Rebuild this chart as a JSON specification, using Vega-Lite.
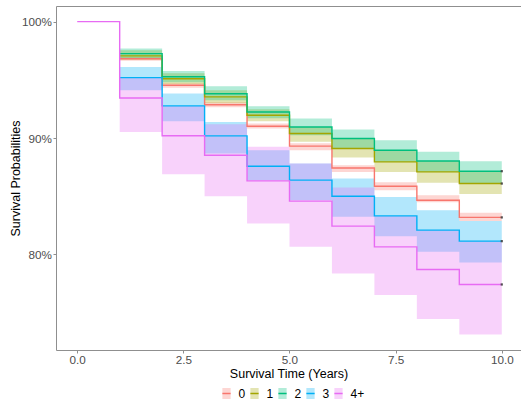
{
  "$schema": "https://vega.github.io/schema/vega-lite/v6.json",
  "width": 465,
  "height": 344,
  "autosize": "none",
  "padding": {"left": 56, "top": 6, "right": 0, "bottom": 49},
  "background": "white",
  "config": {
    "view": {"stroke": null},
    "font": "Liberation Sans",
    "axis": {
      "grid": false,
      "domainColor": "#8f8f8f",
      "tickColor": "#8f8f8f",
      "tickSize": 3,
      "labelColor": "#4d4d4d",
      "labelFontSize": 11.7,
      "labelPadding": 1.5,
      "titleColor": "#000000",
      "titleFontSize": 12.5,
      "titleFontWeight": "normal"
    }
  },
  "data": {
    "values": [
      {"g": "0", "t": 0, "s": 1, "lo": 1, "hi": 1},
      {"g": "0", "t": 1, "s": 0.9681, "lo": 0.9664, "hi": 0.9694},
      {"g": "0", "t": 2, "s": 0.9453, "lo": 0.9432, "hi": 0.947},
      {"g": "0", "t": 3, "s": 0.9286, "lo": 0.9264, "hi": 0.9307},
      {"g": "0", "t": 4, "s": 0.9101, "lo": 0.9082, "hi": 0.9124},
      {"g": "0", "t": 5, "s": 0.893, "lo": 0.8895, "hi": 0.8955},
      {"g": "0", "t": 6, "s": 0.8743, "lo": 0.8709, "hi": 0.8766},
      {"g": "0", "t": 7, "s": 0.8586, "lo": 0.8552, "hi": 0.862},
      {"g": "0", "t": 8, "s": 0.8466, "lo": 0.8449, "hi": 0.8509},
      {"g": "0", "t": 9, "s": 0.8318, "lo": 0.8288, "hi": 0.8357},
      {"g": "0", "t": 10, "s": 0.8318, "lo": 0.8288, "hi": 0.8357},
      {"g": "1", "t": 0, "s": 1, "lo": 1, "hi": 1},
      {"g": "1", "t": 1, "s": 0.9706, "lo": 0.9672, "hi": 0.9754},
      {"g": "1", "t": 2, "s": 0.9509, "lo": 0.9462, "hi": 0.9556},
      {"g": "1", "t": 3, "s": 0.9353, "lo": 0.9299, "hi": 0.941},
      {"g": "1", "t": 4, "s": 0.9196, "lo": 0.9144, "hi": 0.9247},
      {"g": "1", "t": 5, "s": 0.9039, "lo": 0.8967, "hi": 0.9095},
      {"g": "1", "t": 6, "s": 0.891, "lo": 0.8833, "hi": 0.8996},
      {"g": "1", "t": 7, "s": 0.8795, "lo": 0.8709, "hi": 0.8895},
      {"g": "1", "t": 8, "s": 0.8709, "lo": 0.8615, "hi": 0.8803},
      {"g": "1", "t": 9, "s": 0.8609, "lo": 0.8518, "hi": 0.8715},
      {"g": "1", "t": 10, "s": 0.8609, "lo": 0.8518, "hi": 0.8715},
      {"g": "2", "t": 0, "s": 1, "lo": 1, "hi": 1},
      {"g": "2", "t": 1, "s": 0.9725, "lo": 0.9685, "hi": 0.9768},
      {"g": "2", "t": 2, "s": 0.9526, "lo": 0.9479, "hi": 0.9576},
      {"g": "2", "t": 3, "s": 0.938, "lo": 0.9324, "hi": 0.9445},
      {"g": "2", "t": 4, "s": 0.9224, "lo": 0.917, "hi": 0.9273},
      {"g": "2", "t": 5, "s": 0.9095, "lo": 0.9024, "hi": 0.9167},
      {"g": "2", "t": 6, "s": 0.8996, "lo": 0.891, "hi": 0.9073},
      {"g": "2", "t": 7, "s": 0.8895, "lo": 0.8795, "hi": 0.8981},
      {"g": "2", "t": 8, "s": 0.8803, "lo": 0.8709, "hi": 0.8881},
      {"g": "2", "t": 9, "s": 0.8715, "lo": 0.8612, "hi": 0.8801},
      {"g": "2", "t": 10, "s": 0.8715, "lo": 0.8612, "hi": 0.8801},
      {"g": "3", "t": 0, "s": 1, "lo": 1, "hi": 1},
      {"g": "3", "t": 1, "s": 0.9519, "lo": 0.941, "hi": 0.961},
      {"g": "3", "t": 2, "s": 0.9276, "lo": 0.9144, "hi": 0.9382},
      {"g": "3", "t": 3, "s": 0.9018, "lo": 0.8867, "hi": 0.9138},
      {"g": "3", "t": 4, "s": 0.8758, "lo": 0.8638, "hi": 0.8895},
      {"g": "3", "t": 5, "s": 0.8638, "lo": 0.8466, "hi": 0.8781},
      {"g": "3", "t": 6, "s": 0.85, "lo": 0.8323, "hi": 0.8652},
      {"g": "3", "t": 7, "s": 0.8331, "lo": 0.8157, "hi": 0.8494},
      {"g": "3", "t": 8, "s": 0.8209, "lo": 0.8022, "hi": 0.838},
      {"g": "3", "t": 9, "s": 0.8114, "lo": 0.7931, "hi": 0.8288},
      {"g": "3", "t": 10, "s": 0.8114, "lo": 0.7931, "hi": 0.8288},
      {"g": "4+", "t": 0, "s": 1, "lo": 1, "hi": 1},
      {"g": "4+", "t": 1, "s": 0.9344, "lo": 0.9052, "hi": 0.9519},
      {"g": "4+", "t": 2, "s": 0.902, "lo": 0.8689, "hi": 0.9276},
      {"g": "4+", "t": 3, "s": 0.8852, "lo": 0.85, "hi": 0.9118},
      {"g": "4+", "t": 4, "s": 0.8632, "lo": 0.8266, "hi": 0.8924},
      {"g": "4+", "t": 5, "s": 0.8458, "lo": 0.8065, "hi": 0.8781},
      {"g": "4+", "t": 6, "s": 0.8243, "lo": 0.7837, "hi": 0.8575},
      {"g": "4+", "t": 7, "s": 0.8065, "lo": 0.7651, "hi": 0.8331},
      {"g": "4+", "t": 8, "s": 0.7871, "lo": 0.7445, "hi": 0.8209},
      {"g": "4+", "t": 9, "s": 0.7742, "lo": 0.7313, "hi": 0.8114},
      {"g": "4+", "t": 10, "s": 0.7742, "lo": 0.7313, "hi": 0.8114}
    ]
  },
  "resolve": {"axis": {"x": "independent"}},
  "layer": [
    {
      "mark": {"type": "area", "interpolate": "step-after", "opacity": 0.3},
      "encoding": {
        "x": {
          "field": "t", "type": "quantitative",
          "scale": {"domain": [-0.5, 10.453], "nice": false, "zero": false},
          "axis": {"values": [0, 2.5, 5, 7.5, 10], "format": ".1f", "title": "Survival Time (Years)", "titlePadding": 1}
        },
        "y": {
          "field": "hi", "type": "quantitative",
          "scale": {"domain": [0.7179, 1.0134], "nice": false, "zero": false},
          "axis": {"values": [0.8, 0.9, 1.0], "format": ".0%", "title": "Survival Probabilities", "titlePadding": -1}
        },
        "y2": {"field": "lo"},
        "fill": {
          "field": "g", "type": "nominal",
          "scale": {"domain": ["0", "1", "2", "3", "4+"], "range": ["#F8766D", "#A3A500", "#00BF7D", "#00B0F6", "#E76BF3"]},
          "legend": {
            "orient": "none", "legendX": 164, "legendY": 381, "direction": "horizontal",
            "title": null,
            "symbolType": "M-0.75,0H0.75V-1H-0.75V1H0.75V0",
            "symbolSize": 121, "symbolStrokeWidth": 1.5, "symbolDash": [8.25, 100],
            "labelOffset": 5.5, "columnPadding": 1,
            "labelFontSize": 12, "labelColor": "#000000", "padding": 0,
            "encoding": {
              "symbols": {
                "opacity": {"value": 1},
                "fillOpacity": {"value": 0.3},
                "strokeOpacity": {"value": 1},
                "stroke": {"value": {"expr": "scale('fill', datum.value)"}}
              }
            }
          }
        }
      }
    },
    {
      "transform": [{"filter": "datum.t > 0 || datum.g == '4+'"}],
      "mark": {"type": "line", "interpolate": "step-after", "strokeWidth": 1.4},
      "encoding": {
        "x": {
          "field": "t", "type": "quantitative",
          "axis": {"orient": "top", "labels": false, "ticks": false, "title": null, "domain": true}
        },
        "y": {"field": "s", "type": "quantitative"},
        "stroke": {
          "field": "g", "type": "nominal",
          "scale": {"domain": ["0", "1", "2", "3", "4+"], "range": ["#F8766D", "#A3A500", "#00BF7D", "#00B0F6", "#E76BF3"]},
          "legend": null
        }
      }
    },
    {
      "transform": [{"filter": "datum.t == 10"}],
      "mark": {"type": "point", "shape": "square", "filled": true, "size": 5, "color": "#444444", "opacity": 0.9},
      "encoding": {
        "x": {"field": "t", "type": "quantitative", "axis": null},
        "y": {"field": "s", "type": "quantitative"}
      }
    }
  ]
}
